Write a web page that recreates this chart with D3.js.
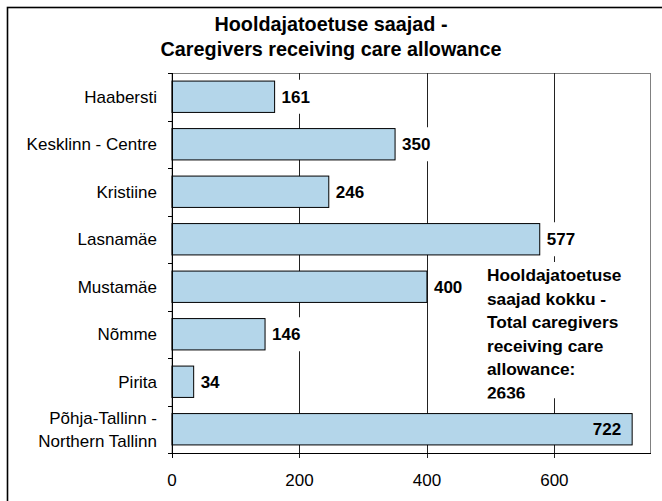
<!DOCTYPE html>
<html>
<head>
<meta charset="utf-8">
<script src="https://cdn.jsdelivr.net/npm/d3@7"></script>
<style>
  body { margin: 0; background: #fff; }
  text { font-family: "Liberation Sans", Arial, sans-serif; }
</style>
</head>
<body>
<div id="chart"></div>
<script>
// andmed
const linnaosad = ["Haabersti", "Kesklinn - Centre", "Kristiine", "Lasnamäe", "Mustamäe", "Nõmme", "Pirita", "Põhja-Tallinn - Northern Tallinn"];
const saajad = [161, 350, 246, 577, 400, 146, 34, 722];
const xTicks = [0, 200, 400, 600];
const pealkiri = ["Hooldajatoetuse saajad -", "Caregivers receiving care allowance"];
const kokkuTekst = ["Hooldajatoetuse", "saajad kokku -", "Total caregivers", "receiving care", "allowance:", "2636"];

const width = 662, height = 501;
const plot = { left: 172, right: 650, top: 73, bottom: 453 };

const svg = d3.select("#chart").append("svg")
    .attr("width", width)
    .attr("height", height);

// välimine raam
svg.append("rect")
    .attr("x", 7.5).attr("y", 7.5)
    .attr("width", 700).attr("height", 600)
    .attr("fill", "#fff")
    .attr("stroke", "#000")
    .attr("stroke-width", 1.6);

// pealkiri
svg.selectAll(".title")
    .data(pealkiri)
    .enter()
    .append("text")
    .attr("class", "title")
    .attr("x", 331)
    .attr("y", (d, i) => 31 + i * 25)
    .attr("text-anchor", "middle")
    .style("font-size", "19.8px")
    .style("font-weight", "bold")
    .text(d => d);

const x = d3.scaleLinear().domain([0, 750]).range([plot.left, plot.right]);
const y = d3.scaleBand().domain(linnaosad).range([plot.top, plot.bottom]).paddingInner(0.34).paddingOuter(0.17);
const step = y.step();

// joonise ala raam
svg.append("rect")
    .attr("x", plot.left).attr("y", plot.top + 0.5)
    .attr("width", plot.right - plot.left + 0.5)
    .attr("height", plot.bottom - plot.top)
    .attr("fill", "none")
    .attr("stroke", "#808080")
    .attr("stroke-width", 1);

// ruudustik
svg.selectAll(".grid")
    .data(xTicks.slice(1))
    .enter()
    .append("line")
    .attr("class", "grid")
    .attr("x1", d => Math.round(x(d)) + 0.5)
    .attr("x2", d => Math.round(x(d)) + 0.5)
    .attr("y1", plot.top)
    .attr("y2", plot.bottom + 5)
    .attr("stroke", "#222")
    .attr("stroke-width", 1);

// tulbad
svg.selectAll(".bar")
    .data(saajad)
    .enter()
    .append("rect")
    .attr("class", "bar")
    .attr("x", x(0))
    .attr("y", (d, i) => y(linnaosad[i]))
    .attr("width", d => x(d) - x(0))
    .attr("height", y.bandwidth())
    .attr("fill", "#b4d6ea")
    .attr("stroke", "#000")
    .attr("stroke-width", 1);

// väärtused
const valG = svg.append("g");
saajad.forEach((d, i) => {
    const sees = d > 700;
    const cy = y(linnaosad[i]) + y.bandwidth() / 2;
    const t = valG.append("text")
        .attr("x", sees ? x(d) - 11 : x(d) + 7)
        .attr("y", cy + 6)
        .attr("text-anchor", sees ? "end" : "start")
        .style("font-size", "17px")
        .style("font-weight", "bold")
        .text(d);
    if (!sees) {
        const b = t.node().getBBox();
        valG.insert("rect", "text")
            .attr("x", b.x - 3).attr("y", cy - 17)
            .attr("width", b.width + 8).attr("height", 34)
            .attr("fill", "#fff");
    }
});

// kokku tekst
const clip = svg.append("clipPath").attr("id", "kokkuClip");
clip.append("rect").attr("x", 480).attr("y", 262).attr("width", 165).attr("height", 136.5);
const kokkuG = svg.append("g").attr("clip-path", "url(#kokkuClip)");
kokkuG.append("rect")
    .attr("x", 482).attr("y", 262).attr("width", 160).attr("height", 136.5)
    .attr("fill", "#fff");
kokkuG.selectAll("text")
    .data(kokkuTekst)
    .enter()
    .append("text")
    .attr("x", 487)
    .attr("y", (d, i) => 281 + i * 23.5)
    .style("font-size", "17.3px")
    .style("font-weight", "bold")
    .text(d => d);

// y telg
svg.append("line")
    .attr("x1", plot.left + 0.5).attr("x2", plot.left + 0.5)
    .attr("y1", plot.top).attr("y2", plot.bottom + 5)
    .attr("stroke", "#000");
svg.selectAll(".ytick")
    .data(d3.range(linnaosad.length + 1))
    .enter()
    .append("line")
    .attr("class", "ytick")
    .attr("x1", plot.left - 4).attr("x2", plot.left)
    .attr("y1", d => Math.round(plot.top + d * step) + 0.5)
    .attr("y2", d => Math.round(plot.top + d * step) + 0.5)
    .attr("stroke", "#000");

// x telg
svg.append("line")
    .attr("x1", plot.left).attr("x2", plot.right + 1)
    .attr("y1", plot.bottom + 0.5).attr("y2", plot.bottom + 0.5)
    .attr("stroke", "#000");

svg.selectAll(".xlab")
    .data(xTicks)
    .enter()
    .append("text")
    .attr("class", "xlab")
    .attr("x", d => x(d))
    .attr("y", 486)
    .attr("text-anchor", "middle")
    .style("font-size", "17px")
    .text(d => d);

// kategooriate nimed
linnaosad.forEach((d, i) => {
    const cy = y(d) + y.bandwidth() / 2;
    const read = d.startsWith("Põhja") ? ["Põhja-Tallinn -", "Northern Tallinn"] : [d];
    read.forEach((r, j) => {
        svg.append("text")
            .attr("x", 157)
            .attr("y", cy + 6 + (j - (read.length - 1) / 2) * 23)
            .attr("text-anchor", "end")
            .style("font-size", "17px")
            .text(r);
    });
});
</script>
</body>
</html>
